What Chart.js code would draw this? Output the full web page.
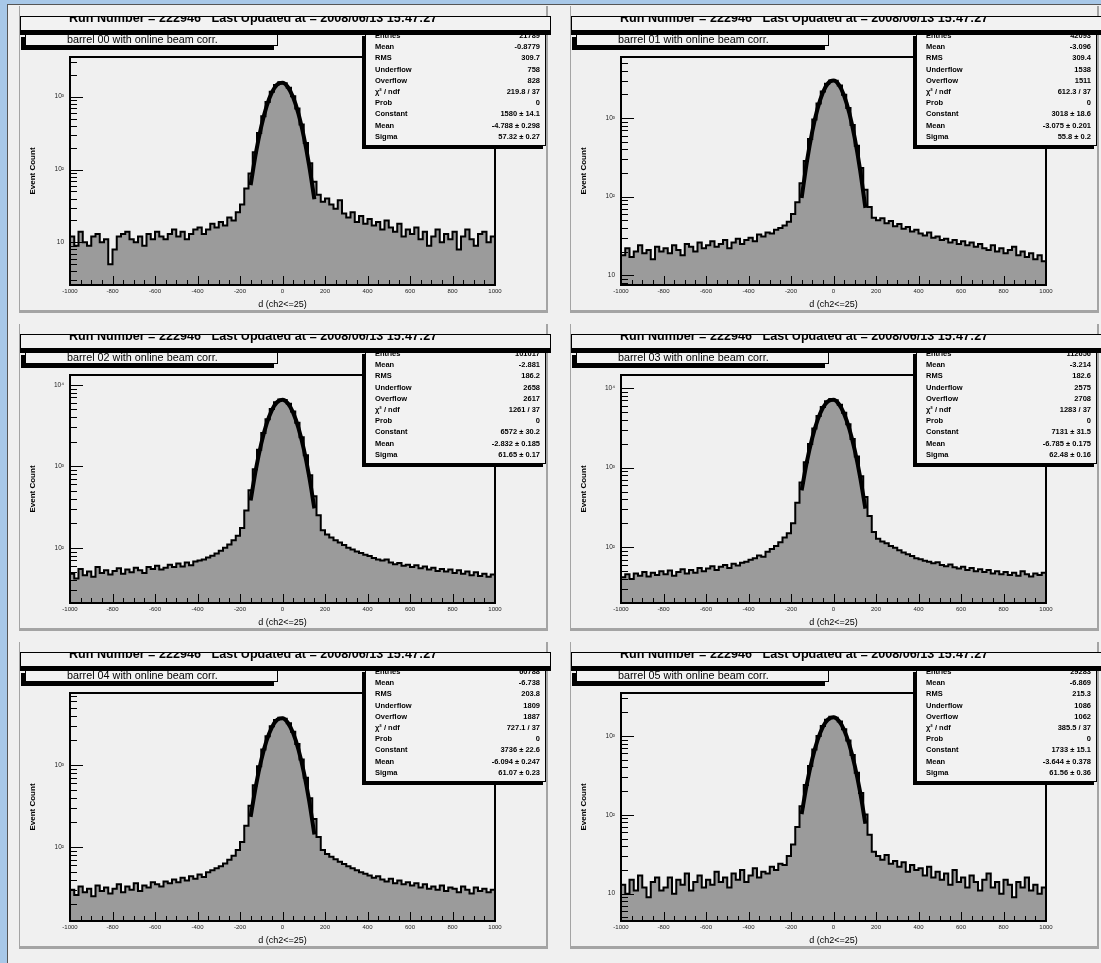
<!DOCTYPE html>
<html>
<head>
<meta charset="utf-8">
<script src="https://cdn.jsdelivr.net/npm/chart.js@4.4.1/dist/chart.umd.min.js"></script>
<style>
  body { margin: 0; background: #a8c8e8; font-family: "Liberation Sans", Arial, sans-serif; }
  #frame { position: absolute; left: 7px; top: 4px; width: 1094px; height: 959px; background: #f0f0f0;
           border-left: 1px solid #555; border-top: 1px solid #555; }
  .panel { position: absolute; width: 529px; height: 307px; background: #f0f0f0;
           box-shadow: inset -2px -3px 0 #a4a4a4, inset 1px 0 0 #a4a4a4; }
  .panel canvas { position: absolute; left: 0; top: 0; }
  .runbox { position: absolute; left: 1px; top: 10px; width: 529px; height: 13px; border: 1px solid #000;
            background: #f2f2f2; box-shadow: 0 4px 0 #000; overflow: hidden; z-index: 3; }
  .runbox span { position: absolute; left: 48px; top: -5px; font-size: 12.6px; line-height: 13px; font-weight: bold;
                 white-space: pre; }
  .namebox { position: absolute; left: 6px; top: 27px; width: 251px; height: 11px; border: 1px solid #000;
             background: #f2f2f2; box-shadow: -4px 4px 0 #000; overflow: hidden; z-index: 2; }
  .namebox span { position: absolute; left: 41px; top: -1px; font-size: 10.8px; line-height: 12px; white-space: pre; }
  .stats { position: absolute; left: 346px; top: 27px; width: 179px; height: 111px; border: 1px solid #000;
           background: #f2f2f2; box-shadow: -3px 3px 0 #000; overflow: hidden; z-index: 2; }
  .stats div { position: absolute; left: 9px; right: 5px; height: 9px; font-size: 7.5px; line-height: 9px; font-weight: bold; }
  .stats b { position: absolute; right: 0; top: 0; }
</style>
</head>
<body>
<div id="frame"></div>
<script>
// histogram axis
const xMin = -1000;
const binWidth = 20;
const xTickValues = [-1000, -800, -600, -400, -200, 0, 200, 400, 600, 800, 1000];
const yLabelValues = [10, 100, 1000, 10000];
const yLabelText = ['10', '10²', '10³', '10⁴'];

const runTitle = 'Run Number = 222946   Last Updated at = 2008/06/13 15:47:27';
const panelNames = [
  'barrel 00 with online beam corr.', 'barrel 01 with online beam corr.',
  'barrel 02 with online beam corr.', 'barrel 03 with online beam corr.',
  'barrel 04 with online beam corr.', 'barrel 05 with online beam corr.'
];

// bin contents, 100 bins of 20 from -1000 to 1000
const counts00 = [
  12, 9, 14, 10, 9, 12, 13, 10, 11, 5,
  8, 12, 13, 14, 11, 10, 12, 9, 13, 11,
  14, 12, 11, 13, 15, 12, 14, 11, 13, 15,
  16, 13, 15, 18, 16, 19, 17, 22, 20, 26,
  33, 55, 88, 172, 318, 540, 845, 1170, 1440, 1580,
  1530, 1320, 1010, 690, 415, 232, 122, 68, 45, 36,
  40, 33, 29, 38, 25, 22, 26, 19, 23, 18,
  21, 17, 19, 15, 20, 16, 14, 18, 12, 15,
  13, 16, 11, 14, 9, 12, 15, 10, 13, 11,
  14, 8, 12, 15, 11, 9, 13, 14, 10, 12
];
const counts01 = [
  18, 22, 17, 20, 24, 19, 21, 16, 23, 20,
  22, 19, 24, 21, 18, 25, 23, 20, 26, 22,
  24, 27, 23, 25, 28, 22, 26, 29, 25, 28,
  30, 27, 33, 31, 35, 34, 38, 40, 43, 48,
  60, 85, 148, 285, 541, 957, 1531, 2177, 2741, 3020,
  2980, 2593, 1984, 1347, 816, 446, 232, 122, 74, 54,
  50, 53, 46, 49, 42, 45, 39, 41, 36, 38,
  34, 32, 35, 30, 31, 28, 29, 26, 28, 25,
  27, 24, 26, 23, 25, 22, 21, 24, 20, 22,
  19, 21, 23, 18, 20, 17, 19, 16, 18, 15
];
const counts02 = [
  48, 42, 55, 46, 51, 44, 58, 49, 53, 47,
  52, 56, 48, 54, 50, 57, 53, 49, 58, 55,
  60, 54, 57, 62, 58, 64, 59, 66, 61, 68,
  70, 72, 76, 80, 85, 92, 100, 110, 124, 140,
  175, 286, 510, 920, 1600, 2570, 3780, 5050, 6110, 6600,
  6520, 5860, 4700, 3420, 2270, 1370, 776, 430, 250, 164,
  146, 134, 124, 116, 108, 100, 95, 90, 86, 82,
  79, 75, 72, 70, 72, 66, 63, 65, 60, 62,
  58, 61, 56, 59, 54, 57, 52, 55, 51, 54,
  49, 53, 48, 51, 46, 50, 45, 48, 44, 47
];
const counts03 = [
  42, 46, 40, 47, 44, 49, 43, 48, 45, 50,
  46, 51, 44, 49, 53, 47, 52, 48, 55, 50,
  54, 58, 52, 57, 60, 55, 62, 59, 64, 66,
  70, 73, 79, 76, 88, 95, 104, 116, 133, 150,
  200, 361, 651, 1167, 1975, 3089, 4426, 5766, 6806, 7250,
  7010, 6147, 4869, 3497, 2289, 1379, 780, 426, 246, 155,
  128, 118, 112, 104, 99, 92, 86, 82, 78, 73,
  71, 68, 66, 63, 65, 60, 58, 61, 56, 54,
  57, 52, 55, 50, 53, 49, 52, 47, 50, 46,
  49, 45, 48, 44, 50, 46, 43, 47, 45, 48
];
const counts04 = [
  30, 26, 33, 28, 31, 25, 34, 29, 32, 27,
  31, 35, 28, 33, 30, 36, 29, 34, 32, 37,
  35, 33, 38, 36, 40, 37, 42, 39, 44, 41,
  46, 43, 49, 52, 55, 58, 63, 70, 78, 92,
  115, 182, 318, 565, 969, 1543, 2251, 2975, 3550, 3780,
  3660, 3227, 2540, 1809, 1171, 698, 394, 220, 132, 92,
  82, 76, 71, 66, 62, 58, 55, 52, 49, 47,
  45, 42, 44, 40, 38, 41, 36, 39, 35, 37,
  34, 36, 32, 35, 31, 33, 30, 34, 29, 32,
  31, 28, 33, 30, 27, 32, 29, 31, 28, 30
];
const counts05 = [
  13, 10, 15, 11, 17, 12, 9, 14, 16, 11,
  12, 16, 10, 15, 13, 18, 11, 14, 17, 12,
  15, 13, 19, 14, 16, 12, 18, 15, 20, 14,
  17, 21, 16, 19, 18, 22, 20, 24, 23, 30,
  42, 70, 128, 238, 416, 674, 996, 1332, 1608, 1745,
  1705, 1520, 1214, 875, 573, 342, 189, 101, 56, 34,
  30, 27, 31, 24, 26, 22, 25, 19, 23, 20,
  21, 17, 22, 16, 19, 15, 18, 13, 20, 14,
  16, 12, 17, 14, 11, 15, 18, 12, 14, 10,
  15, 13, 9, 14, 12, 16, 11, 13, 10, 12
];

// gaussian fit curve, read at these x
const fitX = [-150, -125, -100, -75, -50, -25, 0, 25, 50, 75, 100, 125, 150];
const fit00 = [61, 170, 388, 734, 1142, 1467, 1554, 1358, 980, 583, 285, 116, 39];
const fit01 = [96, 281, 673, 1320, 2122, 2794, 3014, 2663, 1929, 1144, 556, 221, 72];
const fit02 = [380, 922, 1896, 3310, 4903, 6160, 6565, 5936, 4555, 2964, 1637, 766, 304];
const fit03 = [516, 1193, 2345, 3932, 5616, 6835, 7089, 6265, 4719, 3028, 1655, 771, 306];
const fit04 = [233, 562, 1146, 1978, 2885, 3561, 3717, 3281, 2450, 1546, 826, 373, 142];
const fit05 = [102, 248, 509, 884, 1305, 1631, 1730, 1556, 1187, 767, 420, 196, 77];

const yMinList = [2.6, 7.5, 21, 20, 12.5, 4.5];
const yMaxList = [3500, 6000, 13200, 14500, 7560, 3500];

// stats box texts
const statLabels = ['Entries', 'Mean', 'RMS', 'Underflow', 'Overflow', 'χ² / ndf', 'Prob', 'Constant', 'Mean', 'Sigma'];
const statEntries = ['21789', '42093', '101017', '112656', '60788', '29283'];
const statMean = ['-0.8779', '-3.096', '-2.881', '-3.214', '-6.738', '-6.869'];
const statRMS = ['309.7', '309.4', '186.2', '182.6', '203.8', '215.3'];
const statUnder = ['758', '1538', '2658', '2575', '1809', '1086'];
const statOver = ['828', '1511', '2617', '2708', '1887', '1062'];
const statChi2 = ['219.8 / 37', '612.3 / 37', '1261 / 37', '1283 / 37', '727.1 / 37', '385.5 / 37'];
const statProb = ['0', '0', '0', '0', '0', '0'];
const statConst = ['1580 ± 14.1', '3018 ± 18.6', '6572 ± 30.2', '7131 ± 31.5', '3736 ± 22.6', '1733 ± 15.1'];
const statFitMean = ['-4.788 ± 0.298', '-3.075 ± 0.201', '-2.832 ± 0.185', '-6.785 ± 0.175', '-6.094 ± 0.247', '-3.644 ± 0.378'];
const statSigma = ['57.32 ± 0.27', '55.8 ± 0.2', '61.65 ± 0.17', '62.48 ± 0.16', '61.07 ± 0.23', '61.56 ± 0.36'];

const allCounts = [counts00, counts01, counts02, counts03, counts04, counts05];
const allFits = [fit00, fit01, fit02, fit03, fit04, fit05];

const FONT = '"Liberation Sans", Arial, sans-serif';

// ROOT style frame with inward ticks
const rootFrame = {
  id: 'rootFrame',
  afterDatasetsDraw(chart) {
    const { ctx, chartArea: a, scales: { x, y } } = chart;
    ctx.save();
    ctx.strokeStyle = '#000';
    ctx.lineWidth = 1;
    ctx.beginPath();
    const e0 = Math.floor(Math.log10(y.min)), e1 = Math.ceil(Math.log10(y.max));
    for (let e = e0; e <= e1; e++) {
      for (let m = 1; m <= 9; m++) {
        const v = m * Math.pow(10, e);
        if (v < y.min || v > y.max) continue;
        const py = Math.round(y.getPixelForValue(v)) + 0.5;
        ctx.moveTo(a.left, py);
        ctx.lineTo(a.left + (m === 1 ? 13 : 7), py);
      }
    }
    for (let v = -1000; v <= 1000; v += 50) {
      const px = Math.round(x.getPixelForValue(v)) + 0.5;
      ctx.moveTo(px, a.bottom);
      ctx.lineTo(px, a.bottom - (v % 200 === 0 ? 9 : 5));
    }
    ctx.stroke();
    ctx.lineWidth = 2;
    ctx.strokeRect(a.left, a.top, a.right - a.left, a.bottom - a.top);
    ctx.restore();
  }
};

const frame = document.getElementById('frame');

for (let p = 0; p < 6; p++) {
  const col = p % 2, row = Math.floor(p / 2);
  const panel = document.createElement('div');
  panel.className = 'panel';
  panel.style.left = (19 - 8 + col * 551) + 'px';
  panel.style.top = (6 - 5 + row * 318) + 'px';
  frame.appendChild(panel);

  const cv = document.createElement('canvas');
  cv.width = 529; cv.height = 307;
  cv.style.width = '529px'; cv.style.height = '307px';
  panel.appendChild(cv);

  const run = document.createElement('div');
  run.className = 'runbox';
  run.innerHTML = '<span></span>';
  run.firstChild.textContent = runTitle;
  panel.appendChild(run);

  const nm = document.createElement('div');
  nm.className = 'namebox';
  nm.innerHTML = '<span></span>';
  nm.firstChild.textContent = panelNames[p];
  panel.appendChild(nm);

  const st = document.createElement('div');
  st.className = 'stats';
  const vals = [statEntries[p], statMean[p], statRMS[p], statUnder[p], statOver[p],
                statChi2[p], statProb[p], statConst[p], statFitMean[p], statSigma[p]];
  statLabels.forEach((lab, k) => {
    const r = document.createElement('div');
    r.style.top = (-3 + k * 11.2) + 'px';
    r.textContent = lab;
    const b = document.createElement('b');
    b.textContent = vals[k];
    r.appendChild(b);
    st.appendChild(r);
  });
  panel.appendChild(st);

  const counts = allCounts[p];
  const histPts = counts.map((c, i) => ({ x: xMin + i * binWidth, y: c }));
  histPts.push({ x: xMin + counts.length * binWidth, y: counts[counts.length - 1] });
  const fitPts = fitX.map((xv, i) => ({ x: xv, y: allFits[p][i] }));

  new Chart(cv, {
    type: 'line',
    data: {
      datasets: [
        { data: fitPts, borderColor: '#000', borderWidth: 4, pointRadius: 0,
          cubicInterpolationMode: 'monotone', fill: false, order: 0 },
        { data: histPts, borderColor: '#000', borderWidth: 2, backgroundColor: '#9b9b9b',
          fill: 'start', stepped: 'before', pointRadius: 0, order: 1 }
      ]
    },
    options: {
      responsive: false,
      animation: false,
      devicePixelRatio: 1,
      layout: { padding: { left: 0, top: 51, right: 53, bottom: 0 } },
      plugins: { legend: { display: false }, tooltip: { enabled: false } },
      scales: {
        x: {
          type: 'linear', min: -1000, max: 1000,
          afterFit(s) { s.height = 28; },
          afterBuildTicks(s) { s.ticks = xTickValues.map(v => ({ value: v })); },
          grid: { display: false, drawTicks: false },
          border: { display: false },
          ticks: { padding: 3, maxRotation: 0, autoSkip: false, color: '#222',
                   font: { size: 6, family: FONT }, callback: v => String(v) },
          title: { display: true, text: 'd (ch2<=25)', color: '#000',
                   font: { size: 9, family: FONT }, padding: { top: 0, bottom: 3 } }
        },
        y: {
          type: 'logarithmic', min: yMinList[p], max: yMaxList[p],
          afterFit(s) { s.width = 51; },
          grid: { display: false, drawTicks: false },
          border: { display: false },
          ticks: { padding: 6, autoSkip: false, color: '#222', font: { size: 6.5, family: FONT },
                   callback: v => {
                     const k = yLabelValues.indexOf(Math.round(v));
                     return (k >= 0 && Math.abs(v - yLabelValues[k]) < 1e-6) ? yLabelText[k] : '';
                   } },
          title: { display: true, text: 'Event Count', color: '#000',
                   font: { size: 8, weight: 'bold', family: FONT }, padding: { top: 9, bottom: 0 } }
        }
      }
    },
    plugins: [rootFrame]
  });
}
</script>
</body>
</html>
